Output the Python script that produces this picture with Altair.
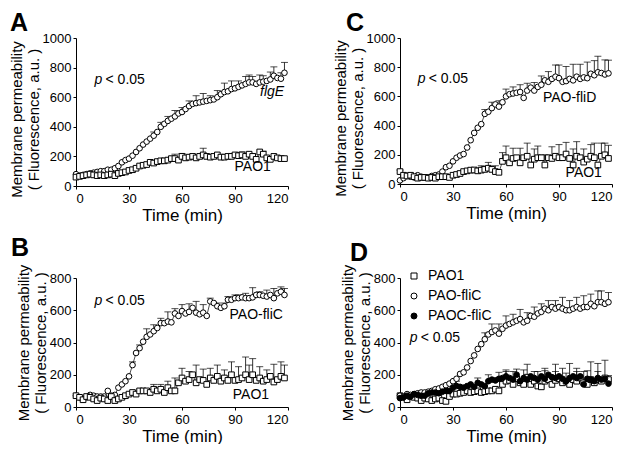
import altair as alt
import pandas as pd

FONT = "Liberation Sans"

TIME = [0, 2, 4, 6, 8, 10, 12, 14, 16, 18,
        20, 22, 24, 26, 28, 30, 32, 34, 36, 38,
        40, 42, 44, 46, 48, 50, 52, 54, 56, 58,
        60, 62, 64, 66, 68, 70, 72, 74, 76, 78,
        80, 82, 84, 86, 88, 90, 92, 94, 96, 98,
        100, 102, 104, 106, 108, 110, 112, 114, 116, 118]

X_TICKS = [0, 30, 60, 90, 120]
Y_TITLE = ["Membrane permeability", "( Fluorescence, a.u. )"]

# ---- Panel A ----
A_FLGE = [80, 70, 75, 80, 85, 90, 95, 100, 100, 110,
          110, 120, 135, 160, 175, 185, 205, 230, 255, 280,
          300, 320, 340, 365, 400, 420, 440, 455, 470, 490,
          500, 520, 540, 555, 560, 565, 570, 575, 580, 585,
          600, 620, 635, 640, 655, 660, 670, 680, 690, 700,
          700, 690, 700, 705, 710, 720, 745, 730, 725, 765]
A_FLGE_ERR = [0, 0, 0, 0, 0, 0, 0, 0, 0, 0,
              0, 0, 0, 0, 0, 0, 0, 0, 0, 0,
              0, 0, 25, 0, 30, 0, 30, 0, 40, 0,
              30, 0, 35, 0, 50, 0, 55, 0, 30, 0,
              45, 0, 60, 0, 55, 0, 40, 0, 50, 50,
              40, 0, 50, 40, 0, 50, 60, 0, 40, 70]
A_PAO1 = [60, 65, 70, 75, 80, 75, 70, 75, 70, 75,
          80, 70, 85, 90, 95, 105, 110, 120, 135, 140,
          145, 160, 155, 165, 170, 170, 175, 185, 185, 175,
          200, 190, 195, 200, 190, 200, 210, 200, 195, 200,
          210, 195, 195, 200, 200, 210, 205, 210, 200, 215,
          200, 180, 230, 215, 190, 180, 200, 190, 185, 185]
A_PAO1_ERR = [0, 0, 0, 0, 0, 0, 0, 0, 0, 0,
              0, 0, 0, 0, 0, 0, 0, 0, 0, 0,
              0, 0, 0, 0, 0, 0, 0, 0, 30, 0,
              20, 0, 0, 0, 0, 0, 45, 0, 0, 0,
              0, 0, 0, 0, 20, 0, 20, 20, 20, 0,
              20, 0, 0, 20, 0, 0, 0, 0, 20, 0]

# ---- Panel C ----
C_FLID = [25, 40, 55, 50, 45, 60, 50, 45, 45, 55,
          60, 65, 85, 115, 125, 155, 180, 195, 205, 250,
          300, 350, 385, 410, 480, 495, 520, 545, 530, 560,
          600, 615, 620, 625, 630, 590, 640, 660, 640, 665,
          680, 710, 700, 720, 735, 725, 700, 705, 720, 710,
          735, 720, 730, 725, 755, 745, 765, 760, 750, 758]
C_FLID_ERR = [0, 0, 0, 0, 0, 0, 0, 0, 0, 0,
              0, 0, 0, 0, 0, 0, 0, 0, 0, 0,
              0, 0, 0, 0, 30, 0, 40, 0, 40, 0,
              50, 0, 45, 0, 50, 0, 50, 0, 55, 0,
              60, 0, 70, 0, 80, 90, 0, 100, 0, 110,
              0, 100, 0, 110, 0, 100, 110, 0, 100, 90]
C_PAO1 = [85, 60, 55, 60, 50, 40, 45, 45, 40, 45,
          40, 50, 50, 50, 45, 60, 65, 72, 85, 90,
          95, 96, 90, 95, 100, 108, 100, 85, 80, 155,
          180, 145, 175, 180, 145, 180, 190, 130, 170, 180,
          180, 130, 180, 175, 190, 180, 180, 205, 175, 130,
          190, 180, 150, 170, 190, 180, 130, 190, 200, 175]
C_PAO1_ERR = [10, 0, 0, 0, 0, 0, 0, 0, 0, 0,
              0, 0, 0, 0, 0, 0, 0, 0, 0, 0,
              0, 0, 0, 30, 0, 40, 0, 40, 0, 60,
              80, 0, 70, 0, 100, 0, 90, 0, 70, 80,
              0, 70, 0, 80, 0, 90, 0, 80, 0, 110,
              100, 0, 90, 0, 80, 100, 0, 90, 80, 90]

# ---- Panel B ----
B_FLIC = [70, 60, 50, 60, 75, 70, 65, 65, 65, 100,
          70, 75, 120, 140, 160, 190, 260, 335, 365, 405,
          435, 450, 470, 490, 520, 520, 530, 525, 580, 565,
          595, 580, 590, 615, 585, 575, 585, 565, 655, 645,
          625, 615, 625, 665, 665, 675, 675, 680, 675, 675,
          680, 695, 695, 690, 685, 695, 675, 705, 715, 695]
B_FLIC_ERR = [0, 0, 0, 0, 0, 0, 0, 0, 0, 0,
              0, 0, 0, 0, 0, 0, 20, 0, 20, 0,
              50, 0, 40, 0, 30, 0, 60, 0, 30, 0,
              40, 0, 50, 0, 70, 0, 50, 0, 20, 0,
              20, 0, 20, 20, 0, 20, 20, 0, 30, 0,
              60, 0, 20, 0, 40, 0, 60, 0, 30, 40]
B_PAO1 = [70, 60, 45, 65, 60, 50, 40, 55, 50, 40,
          65, 40, 50, 60, 70, 80, 90, 80, 100, 100,
          100, 90, 110, 100, 110, 90, 120, 100, 100, 150,
          180, 160, 170, 200, 150, 170, 165, 140, 180, 165,
          190, 160, 180, 165, 200, 165, 170, 180, 200, 170,
          200, 165, 180, 160, 170, 190, 155, 170, 190, 180]
B_PAO1_ERR = [0, 0, 0, 0, 0, 0, 0, 0, 0, 0,
              0, 0, 0, 0, 0, 0, 0, 0, 0, 0,
              0, 0, 30, 0, 30, 0, 40, 0, 80, 0,
              60, 0, 50, 0, 110, 0, 70, 0, 60, 0,
              70, 0, 50, 0, 80, 0, 80, 0, 110, 90,
              100, 0, 70, 0, 60, 0, 110, 0, 90, 80]

# ---- Panel D ----
D_PAO1 = [70, 60, 45, 65, 60, 55, 40, 55, 50, 40,
          50, 55, 40, 35, 65, 80, 80, 85, 90, 100,
          90, 95, 100, 90, 95, 100, 100, 110, 100, 140,
          160, 165, 140, 175, 150, 140, 185, 140, 160, 130,
          125, 160, 170, 140, 165, 175, 150, 160, 140, 170,
          160, 180, 150, 140, 170, 150, 170, 160, 180, 170]
D_PAO1_ERR = [0, 0, 0, 0, 0, 0, 0, 0, 0, 0,
              0, 0, 0, 0, 0, 0, 0, 0, 0, 0,
              0, 0, 0, 0, 0, 0, 0, 0, 0, 0,
              60, 0, 0, 60, 0, 0, 80, 0, 0, 90,
              0, 80, 0, 0, 100, 0, 90, 0, 130, 0,
              80, 0, 70, 0, 110, 0, 100, 0, 110, 0]
D_FLIC = [70, 65, 80, 75, 80, 85, 90, 90, 95, 100,
          110, 115, 125, 135, 145, 160, 175, 205, 215, 245,
          285, 320, 360, 390, 420, 450, 465, 475, 455, 485,
          505, 515, 525, 535, 545, 525, 535, 565, 560, 580,
          590, 610, 600, 620, 610, 620, 610, 600, 600, 610,
          620, 610, 620, 620, 640, 625, 650, 650, 640, 650]
D_FLIC_ERR = [0, 0, 0, 0, 0, 0, 0, 0, 0, 0,
              0, 0, 0, 0, 0, 0, 0, 0, 0, 0,
              0, 0, 0, 0, 40, 0, 50, 0, 60, 0,
              60, 0, 50, 0, 60, 0, 50, 0, 60, 0,
              50, 0, 60, 0, 50, 0, 70, 0, 60, 0,
              60, 0, 70, 0, 60, 0, 70, 70, 0, 60]
D_PAOC = [55, 60, 70, 65, 80, 75, 70, 70, 85, 90,
          90, 85, 95, 100, 100, 120, 130, 125, 120, 130,
          140, 125, 150, 140, 130, 160, 170, 165, 175, 180,
          190, 180, 170, 200, 160, 180, 170, 190, 180, 170,
          190, 175, 200, 185, 180, 190, 175, 160, 180, 190,
          180, 190, 140, 175, 170, 160, 180, 170, 175, 145]
D_PAOC_ERR = [0, 0, 0, 0, 0, 0, 0, 0, 0, 0,
              0, 0, 0, 0, 0, 0, 30, 0, 0, 0,
              0, 0, 30, 0, 0, 40, 0, 0, 40, 0,
              40, 0, 50, 0, 0, 50, 0, 0, 40, 0,
              0, 50, 0, 0, 40, 0, 0, 50, 0, 0,
              40, 0, 0, 50, 0, 0, 40, 0, 0, 50]

SHAPES = {"PAO1": "square", "flgE": "circle", "PAO-fliD": "circle",
          "PAO-fliC": "circle", "PAOC-fliC": "circle"}
FILLS = {"PAO1": "white", "flgE": "white", "PAO-fliD": "white",
         "PAO-fliC": "white", "PAOC-fliC": "black"}

# annotation text: (text, t, y, italic)
A_NOTES = [("flgE", 111, 635, True), ("PAO1", 100, 128, False)]
C_NOTES = [("PAO-fliD", 96, 590, False), ("PAO1", 104, 72, False)]
B_NOTES = [("PAO-fliC", 102, 570, False), ("PAO1", 99, 74, False)]
D_NOTES = []
A_P = (10.5, 716)
C_P = (10, 720)
B_P = (10.5, 657)
D_P = (5.5, 431)


def make_panel(series, ymax, letter, dx, offset, height, notes, pval, legend=False,
               title_y=None):
    rows = []
    for name, vals, errs in series:
        for t, v, e in zip(TIME, vals, errs):
            rows.append(dict(series=name, t=t, y=v, err=e, top=v + e))
    df = pd.DataFrame(rows)
    names = [s[0] for s in series]

    xenc = alt.X("t:Q", scale=alt.Scale(domain=[0, 120], nice=False),
                 axis=alt.Axis(values=X_TICKS, title="Time (min)"))

    axis_kw = dict(values=list(range(0, ymax + 1, 200)), title=Y_TITLE, format="d")
    if title_y is not None:
        axis_kw["titleY"] = title_y

    def yenc(field):
        return alt.Y(f"{field}:Q", scale=alt.Scale(domain=[0, ymax], nice=False),
                     axis=alt.Axis(**axis_kw))

    base = alt.Chart(df)
    bars = base.transform_filter("datum.err > 0").mark_rule(
        color="black", strokeWidth=0.8).encode(x=xenc, y=yenc("y"), y2="top:Q")
    caps = base.transform_filter("datum.err > 0").mark_tick(
        color="black", orient="horizontal", size=7, thickness=1).encode(x=xenc, y=yenc("top"))
    line = base.mark_line(color="black", strokeWidth=0.7).encode(
        x=xenc, y=yenc("y"), detail="series:N")
    if legend:
        leg = alt.Legend(title=None, orient="none", legendX=7, legendY=-9,
                         labelFontSize=14, labelFont=FONT, labelColor="black",
                         symbolSize=36, symbolStrokeWidth=1,
                         rowPadding=6, labelOffset=7, padding=0)
    else:
        leg = None
    pts = base.mark_point(filled=True, size=32, stroke="black", strokeWidth=1,
                          opacity=1).encode(
        x=xenc, y=yenc("y"),
        shape=alt.Shape("series:N", sort=names,
                        scale=alt.Scale(domain=names, range=[SHAPES[n] for n in names]),
                        legend=leg),
        fill=alt.Fill("series:N", sort=names,
                      scale=alt.Scale(domain=names, range=[FILLS[n] for n in names]),
                      legend=leg),
        stroke=alt.Stroke("series:N", sort=names,
                          scale=alt.Scale(domain=names, range=["black"] * len(names)),
                          legend=leg),
    )

    layers = [bars, caps, line, pts]

    pdf = pd.DataFrame([{"t": pval[0], "y": pval[1]}])
    p1 = alt.Chart(pdf).mark_text(text="p", fontStyle="italic", fontSize=14, font=FONT,
                                  align="left", baseline="middle", color="black").encode(
        x=xenc, y=yenc("y"))
    p2 = alt.Chart(pdf).mark_text(text="< 0.05", fontSize=14, font=FONT, dx=11,
                                  align="left", baseline="middle", color="black").encode(
        x=xenc, y=yenc("y"))
    layers += [p1, p2]

    if notes:
        ndf = pd.DataFrame([{"text": n[0], "t": n[1], "y": n[2], "it": n[3]} for n in notes])
        it = alt.Chart(ndf).transform_filter("datum.it").mark_text(
            fontStyle="italic", fontSize=14, font=FONT, align="center",
            baseline="middle", color="black").encode(x=xenc, y=yenc("y"), text="text:N")
        nm = alt.Chart(ndf).transform_filter("!datum.it").mark_text(
            fontSize=14, font=FONT, align="center",
            baseline="middle", color="black").encode(x=xenc, y=yenc("y"), text="text:N")
        layers += [it, nm]

    return alt.layer(*layers).properties(
        width=212, height=height,
        title=alt.TitleParams(letter, anchor="start", frame="group", dx=dx, fontSize=25,
                              font=FONT, fontWeight="bold", offset=offset, color="black"),
    )


pa = make_panel([("flgE", A_FLGE, A_FLGE_ERR), ("PAO1", A_PAO1, A_PAO1_ERR)],
                1000, "A", -66, -4, 148, A_NOTES, A_P, title_y=81)
pc = make_panel([("PAO-fliD", C_FLID, C_FLID_ERR), ("PAO1", C_PAO1, C_PAO1_ERR)],
                1000, "C", -54, -4, 146, C_NOTES, C_P, title_y=80)
pb = make_panel([("PAO-fliC", B_FLIC, B_FLIC_ERR), ("PAO1", B_PAO1, B_PAO1_ERR)],
                800, "B", -65, 3, 129, B_NOTES, B_P)
pd_ = make_panel([("PAO1", D_PAO1, D_PAO1_ERR), ("PAO-fliC", D_FLIC, D_FLIC_ERR),
                  ("PAOC-fliC", D_PAOC, D_PAOC_ERR)],
                 800, "D", -50, -2, 129, D_NOTES, D_P, legend=True)

RES = dict(shape="independent", fill="independent", stroke="independent")
left = alt.vconcat(pa, pb, spacing=13).resolve_scale(**RES)
right = alt.vconcat(pc, pd_, spacing=20).resolve_scale(**RES)
chart = alt.hconcat(left, right, spacing=43).resolve_scale(**RES).properties(
    padding={"left": 1, "top": 3, "right": 0, "bottom": 0}
).configure_view(stroke=None).configure_axis(
    grid=False, domainColor="black", tickColor="black", labelColor="black",
    titleColor="black", labelFont=FONT, titleFont=FONT, labelFontSize=13,
    titleFontSize=15, titleFontWeight="normal", tickSize=3, labelPadding=2,
    domainWidth=1, tickWidth=1,
).configure_axisY(titlePadding=1, titleLineHeight=17).configure_axisX(
    titlePadding=2, titleFontSize=17, labelPadding=3)

chart.save("out.html", embed_options={"renderer": "svg", "actions": False})
